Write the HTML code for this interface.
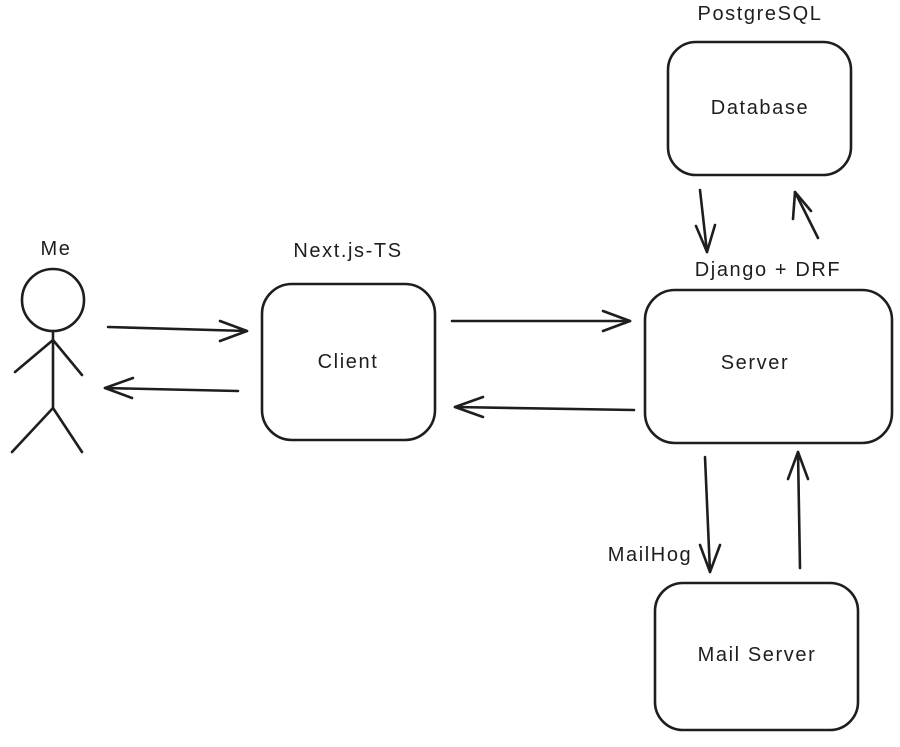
<!DOCTYPE html>
<html><head><meta charset="utf-8"><style>
html,body{margin:0;padding:0;background:#fff;}
svg{display:block;}
text{font-family:"Liberation Sans",sans-serif;font-size:20px;letter-spacing:1.6px;fill:#1e1e1e;text-anchor:middle;}
</style></head><body>
<svg width="900" height="747" viewBox="0 0 900 747" xmlns="http://www.w3.org/2000/svg">
<g fill="none" stroke="#1e1e1e" stroke-width="2.6" stroke-linecap="round" stroke-linejoin="round">
<circle cx="53" cy="300" r="31"/>
<line x1="53" y1="331" x2="53" y2="408"/>
<line x1="53" y1="340" x2="15" y2="372"/>
<line x1="53" y1="340" x2="82" y2="375"/>
<line x1="53" y1="408" x2="12" y2="452"/>
<line x1="53" y1="408" x2="82" y2="452"/>
<rect x="262" y="284" width="173" height="156" rx="30"/>
<rect x="645" y="290" width="247" height="153" rx="30"/>
<rect x="668" y="42" width="183" height="133" rx="28"/>
<rect x="655" y="583" width="203" height="147" rx="28"/>
<line x1="108" y1="327" x2="247" y2="331"/><polyline points="220,321 247,331 220,341"/>
<line x1="238" y1="391" x2="105" y2="388"/><polyline points="133,378 105,388 132,398"/>
<line x1="452" y1="321" x2="630" y2="321"/><polyline points="603,311 630,321 603,331"/>
<line x1="634" y1="410" x2="455" y2="407"/><polyline points="483,397 455,407 483,417"/>
<line x1="700" y1="190" x2="707" y2="252"/><polyline points="696,226 707,252 715,225"/>
<line x1="818" y1="238" x2="795" y2="192"/><polyline points="793,219 795,192 811,211"/>
<line x1="705" y1="457" x2="710" y2="572"/><polyline points="700,545 710,572 720,545"/>
<line x1="800" y1="568" x2="798" y2="452"/><polyline points="788,479 798,452 808,479"/>
</g>
<text x="56" y="255">Me</text>
<text x="348" y="257">Next.js-TS</text>
<text x="348" y="368">Client</text>
<text x="768" y="276">Django + DRF</text>
<text x="755" y="369">Server</text>
<text x="760" y="20">PostgreSQL</text>
<text x="760" y="114">Database</text>
<text x="650" y="561">MailHog</text>
<text x="757" y="661">Mail Server</text>
</svg>
</body></html>
